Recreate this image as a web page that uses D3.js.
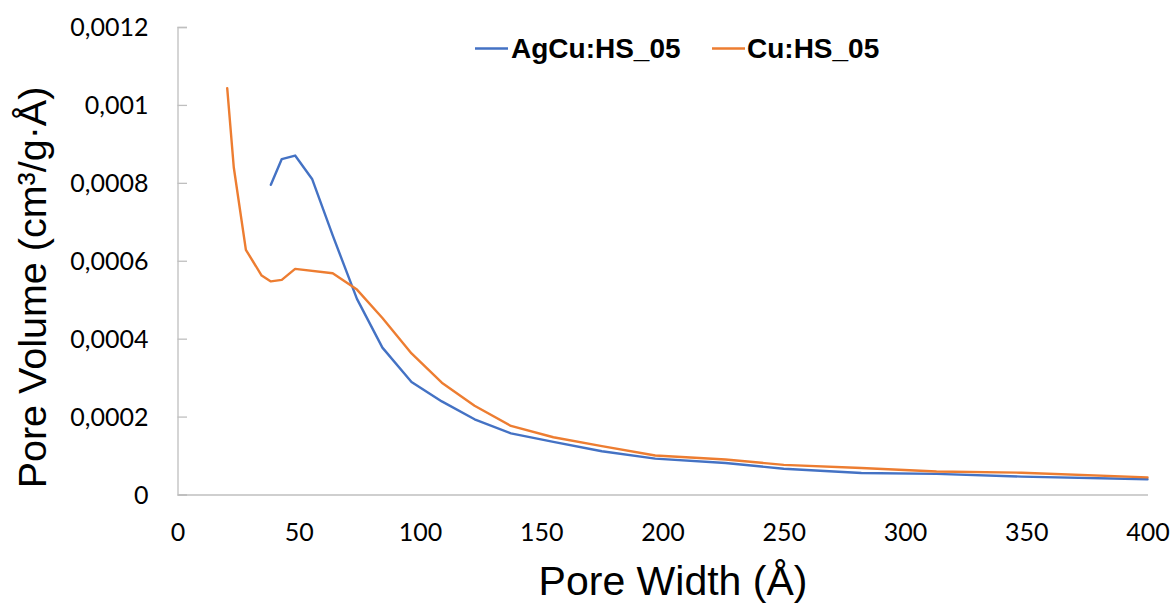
<!DOCTYPE html>
<html>
<head>
<meta charset="utf-8">
<script src="https://cdn.jsdelivr.net/npm/d3@7"></script>
<style>
  html, body { margin: 0; padding: 0; background: #fff; }
  svg { display: block; }
</style>
</head>
<body>
<svg id="chart" width="1175" height="603"></svg>
<script>
// ---- data ----
const seriesNames = ["AgCu:HS_05", "Cu:HS_05"];
const seriesColors = ["#4472C4", "#ED7D31"];

const agcuWidth = [38.5, 43, 48.5, 55.5, 64, 74, 84.5, 96.5, 109, 122.5, 137.5, 155, 175, 197, 226, 250, 282, 313, 348, 400];
const agcuVolume = [0.000795, 0.000861, 0.00087, 0.00081, 0.000665, 0.000502, 0.000377, 0.000289, 0.000239, 0.000193, 0.000157, 0.000135, 0.000111, 0.000092, 0.000081, 0.000066, 0.000055, 0.000053, 0.000046, 0.000039];

const cuWidth = [20.5, 23.2, 28.2, 34.7, 38.5, 43, 48.5, 64, 74, 84.5, 96.5, 109, 122.5, 137.5, 155, 175, 197, 226, 250, 282, 313, 348, 400];
const cuVolume = [0.001043, 0.00084, 0.000628, 0.000562, 0.000547, 0.000551, 0.000579, 0.000568, 0.000526, 0.000453, 0.000362, 0.000287, 0.000228, 0.000176, 0.000147, 0.000124, 0.0001, 0.00009, 0.000076, 0.000068, 0.000059, 0.000056, 0.000044];

const xTicks = [0, 50, 100, 150, 200, 250, 300, 350, 400];
const yTicks = [0, 0.0002, 0.0004, 0.0006, 0.0008, 0.001, 0.0012];
const yTickLabels = ["0", "0,0002", "0,0004", "0,0006", "0,0008", "0,001", "0,0012"];

const xTitle = "Pore Width (Å)";
const yTitle = "Pore Volume (cm³/g·Å)";

// ---- layout ----
const svg = d3.select("#chart");
const plotLeft = 177.5, plotRight = 1147.5, plotTop = 27, plotBottom = 494.5;

const x = d3.scaleLinear().domain([0, 400]).range([plotLeft, plotRight]);
const y = d3.scaleLinear().domain([0, 0.0012]).range([plotBottom, plotTop]);

const axisColor = "#BFBFBF";
const tickFont = "Lato, 'Open Sans', sans-serif";

// x axis
const xAxis = svg.append("g").attr("transform", `translate(0,${plotBottom})`)
  .call(d3.axisBottom(x).tickValues(xTicks).tickSize(0).tickPadding(0).tickFormat(d3.format("d")));
xAxis.select(".domain").attr("stroke", axisColor).attr("stroke-width", 1.3);
xAxis.selectAll("text")
  .attr("font-family", tickFont).attr("font-size", 25).attr("fill", "#000")
  .attr("dy", null).attr("y", 46);

// y axis (ticks inside)
const yAxis = svg.append("g").attr("transform", `translate(${plotLeft},0)`)
  .call(d3.axisLeft(y).tickValues(yTicks).tickSize(-9.5).tickPadding(0)
    .tickFormat((d, i) => yTickLabels[i]));
yAxis.select(".domain").attr("stroke", axisColor).attr("stroke-width", 1.3);
yAxis.selectAll(".tick line").attr("stroke", axisColor).attr("stroke-width", 1.3);
yAxis.selectAll("text")
  .attr("font-family", tickFont).attr("font-size", 25).attr("fill", "#000")
  .attr("x", -29).attr("dy", "0.35em");

// lines
const line = d3.line().x(d => x(d[0])).y(d => y(d[1]));
const series = [
  d3.zip(agcuWidth, agcuVolume),
  d3.zip(cuWidth, cuVolume)
];
series.forEach((s, i) => {
  svg.append("path").datum(s)
    .attr("fill", "none")
    .attr("stroke", seriesColors[i])
    .attr("stroke-width", 2.4)
    .attr("stroke-linejoin", "round")
    .attr("stroke-linecap", "round")
    .attr("d", line);
});

// legend
const legendItems = [
  { lx: 475, tx: 511 },
  { lx: 712, tx: 747 }
];
legendItems.forEach((it, i) => {
  svg.append("line")
    .attr("x1", it.lx).attr("x2", it.lx + 33)
    .attr("y1", 48.5).attr("y2", 48.5)
    .attr("stroke", seriesColors[i]).attr("stroke-width", 2.4);
  svg.append("text")
    .attr("x", it.tx).attr("y", 58)
    .attr("font-family", "'Liberation Sans', Arial, sans-serif")
    .attr("font-weight", "bold").attr("font-size", 28)
    .attr("fill", "#000")
    .text(seriesNames[i]);
});

// axis titles
svg.append("text")
  .attr("x", 673).attr("y", 595)
  .attr("text-anchor", "middle")
  .attr("font-family", "'Liberation Sans', Arial, sans-serif")
  .attr("font-size", 41).attr("fill", "#000")
  .text(xTitle);

svg.append("text")
  .attr("transform", "translate(46,287.5) rotate(-90)")
  .attr("text-anchor", "middle")
  .attr("font-family", "'Liberation Sans', Arial, sans-serif")
  .attr("font-size", 39.5).attr("fill", "#000")
  .text(yTitle);
</script>
</body>
</html>
